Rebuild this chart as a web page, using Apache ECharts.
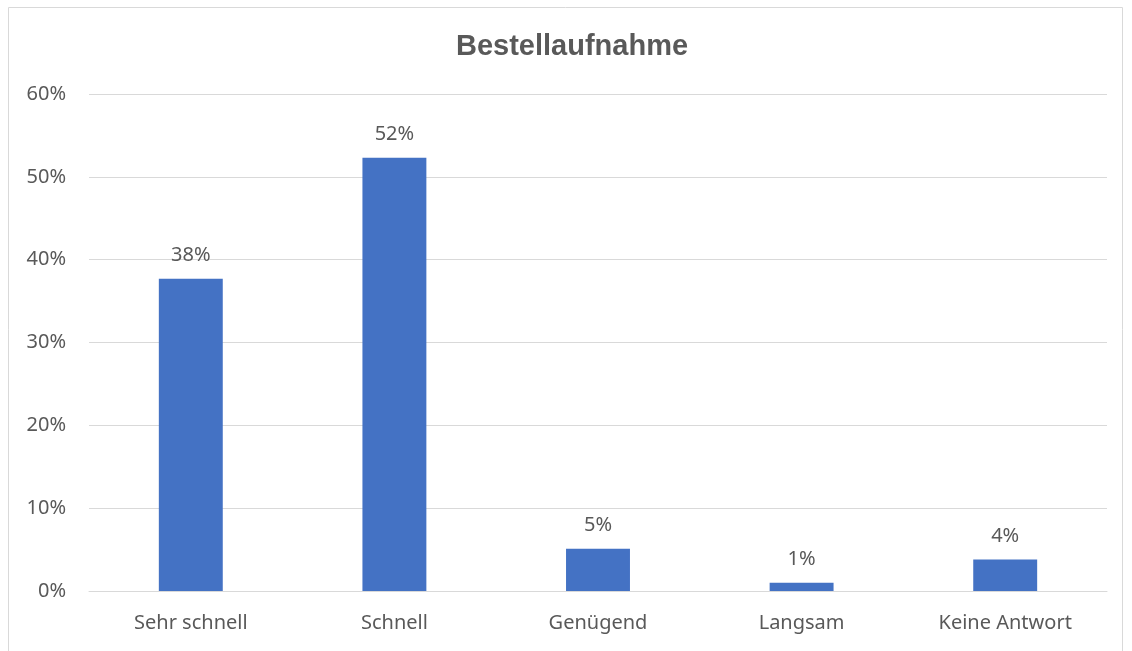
<!DOCTYPE html>
<html>
<head>
<meta charset="utf-8">
<script src="https://cdn.jsdelivr.net/npm/echarts@6/dist/echarts.min.js"></script>
<style>
	html, body { margin: 0; padding: 0; background: #fff; }
	#main { width: 1132px; height: 651px; }
</style>
</head>
<body>
<div id="main"></div>
<script>
// Kategorien und Werte (Anteile in %)
var categories = ['Sehr schnell', 'Schnell', 'Genügend', 'Langsam', 'Keine Antwort'];
var values = [37.7, 52.3, 5.1, 1.0, 3.8];
var yTicks = [0, 10, 20, 30, 40, 50, 60];

var textColor = '#595959';
var font = 'Noto Sans';

var myChart = echarts.init(document.getElementById('main'));

var option = {
	animation: false,
	title: {
		text: 'Bestellaufnahme',
		left: 451,
		top: 27,
		textStyle: {
			fontFamily: 'Liberation Sans',
			fontSize: 29,
			fontWeight: 'bold',
			color: textColor
		}
	},
	graphic: [{
		type: 'rect',
		shape: { x: 8.5, y: 7.5, width: 1114, height: 660 },
		style: { fill: 'none', stroke: '#d9d9d9', lineWidth: 1 },
		silent: true
	}],
	grid: {
		left: 89,
		right: 25,
		top: 94,
		bottom: 60
	},
	xAxis: {
		type: 'category',
		data: categories,
		axisTick: { show: false },
		axisLine: { lineStyle: { color: '#d9d9d9', width: 1 } },
		axisLabel: {
			color: textColor,
			fontFamily: font,
			fontSize: 20,
			margin: 22
		}
	},
	yAxis: {
		type: 'value',
		min: yTicks[0],
		max: yTicks[yTicks.length - 1],
		interval: 10,
		axisLine: { show: false },
		axisTick: { show: false },
		splitLine: { lineStyle: { color: '#d9d9d9', width: 1 } },
		axisLabel: {
			color: textColor,
			fontFamily: font,
			fontSize: 20,
			margin: 23,
			formatter: '{value}%'
		}
	},
	series: [{
		type: 'bar',
		data: values,
		barWidth: '31.4%',
		itemStyle: { color: '#4472c4' },
		label: {
			show: true,
			position: 'top',
			distance: 13,
			color: textColor,
			fontFamily: font,
			fontSize: 20,
			formatter: function(p) {
				return Math.round(p.value) + '%';
			}
		}
	}]
};

myChart.setOption(option);
</script>
</body>
</html>
